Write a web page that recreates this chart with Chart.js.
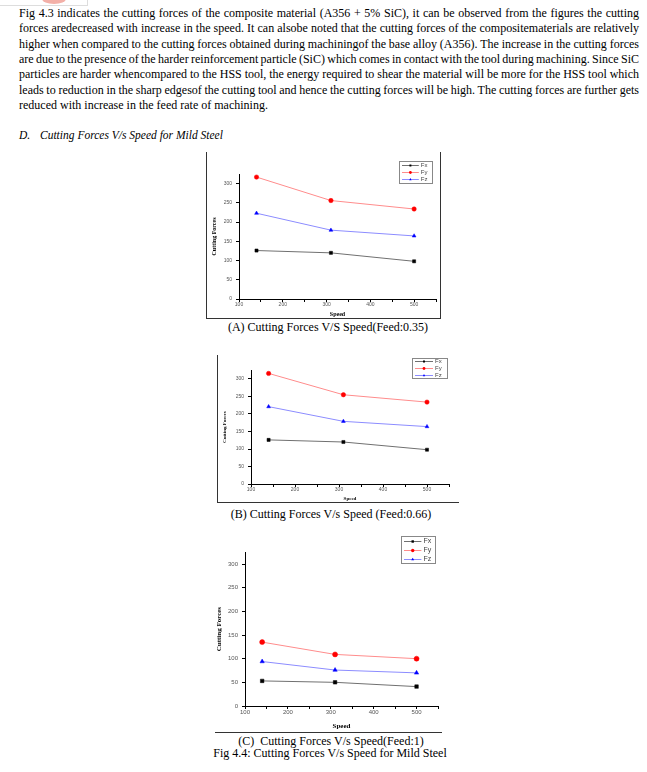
<!DOCTYPE html>
<html>
<head>
<meta charset="utf-8">
<script src="https://cdn.jsdelivr.net/npm/chart.js@4.4.1/dist/chart.umd.min.js"></script>
<style>
  body { margin: 0; background: #fff; }
  #page { position: relative; width: 647px; height: 772px; overflow: hidden; background: #fff; }
  .ln { position: absolute; left: 19px; white-space: nowrap; font-family: "Liberation Serif", serif; font-size: 12px; line-height: 15px; color: #000; }
  .cap { position: absolute; white-space: nowrap; font-family: "Liberation Serif", serif; font-size: 12px; line-height: 14px; color: #000; transform: translateX(-50%); }
  canvas { position: absolute; }
  .frame { position: absolute; border-color: #333; border-style: solid; border-width: 0; }
</style>
</head>
<body>
<div id="page">
  <!-- bout de logo coupé en haut -->
  <div style="position:absolute;left:0;top:0;width:87px;height:5px;border-right:1px solid #ddd;border-bottom:1px solid #ddd;"></div>
  <div style="position:absolute;left:42px;top:-6px;width:24px;height:10px;border-radius:50%;background:#f3b0a8;"></div>

  <div id="para"></div>
  <div class="ln" style="top:128px;font-style:italic;font-size:11.5px;">D.</div>
  <div class="ln" style="top:128px;left:40px;font-style:italic;font-size:11.5px;">Cutting Forces V/s Speed for Mild Steel</div>

  <div class="frame" style="left:206px;top:152px;width:233px;height:166px;border-width:0 1px 1px 1px;"></div>
  <canvas id="chartA" width="245" height="170" style="left:200px;top:150px;"></canvas>
  <div class="cap" style="left:328px;top:320px;">(A) Cutting Forces V/S Speed(Feed:0.35)</div>

  <div class="frame" style="left:217px;top:355px;width:241px;height:147px;border-width:0 0 1px 1px;"></div>
  <canvas id="chartB" width="241" height="148" style="left:217px;top:355px;"></canvas>
  <div class="cap" style="left:331px;top:507px;">(B) Cutting Forces V/s Speed (Feed:0.66)</div>

  <canvas id="chartC" width="240" height="202" style="left:205px;top:530px;"></canvas>
  <div class="frame" style="left:215px;top:732px;width:227px;height:0;border-width:1px 0 0 0;"></div>
  <div class="cap" style="left:331px;top:734px;">(C) &nbsp;Cutting Forces V/s Speed(Feed:1)</div>
  <div class="cap" style="left:330px;top:746px;">Fig 4.4: Cutting Forces V/s Speed for Mild Steel</div>
</div>

<script>
// texte du paragraphe, une entrée par ligne (justifiée sauf la dernière)
var textLines = [
  "Fig 4.3 indicates the cutting forces of the composite material (A356 + 5% SiC), it can be observed from the figures the cutting",
  "forces aredecreased with increase in the speed. It can alsobe noted that the cutting forces of the compositematerials are relatively",
  "higher when compared to the cutting forces obtained during machiningof the base alloy (A356). The increase in the cutting forces",
  "are due to the presence of the harder reinforcement particle (SiC) which comes in contact with the tool during machining. Since SiC",
  "particles are harder whencompared to the HSS tool, the energy required to shear the material will be more for the HSS tool which",
  "leads to reduction in the sharp edgesof the cutting tool and hence the cutting forces will be high. The cutting forces are further gets",
  "reduced with increase in the feed rate of machining."
];

var speeds = [140, 310, 500];
var seriesNames = ["Fx", "Fy", "Fz"];

var fxA = [126, 120, 98];
var fyA = [317, 256, 234];
var fzA = [223, 179, 164];

var fxB = [126, 120, 98];
var fyB = [316, 255, 234];
var fzB = [221, 179, 164];

var fxC = [53, 50, 41];
var fyC = [135, 109, 100];
var fzC = [94, 76, 70];

var xMin = 100, xMax = 550, xStep = 50, xLabelEvery = 100;
var yMin = 0, yMax = 325, yStep = 50;

// paragraphe: on place chaque ligne et on étire les espaces pour justifier
var para = document.getElementById("para");
var lineWidth = 620;
textLines.forEach(function(t, i) {
  var d = document.createElement("div");
  d.className = "ln";
  d.style.top = (6 + i * 15.33) + "px";
  d.textContent = t;
  para.appendChild(d);
  if (i < textLines.length - 1) {
    var w = d.getBoundingClientRect().width;
    var spaces = t.split(" ").length - 1;
    d.style.wordSpacing = ((lineWidth - w) / spaces) + "px";
  }
});

// légende encadrée façon Origin
const boxLegend = {
  id: 'boxLegend',
  afterDraw(chart, args, opts) {
    const ctx = chart.ctx;
    ctx.save();
    ctx.fillStyle = '#fff';
    ctx.fillRect(opts.x, opts.y, opts.w, opts.h);
    ctx.strokeStyle = '#888';
    ctx.lineWidth = 1;
    ctx.strokeRect(opts.x + 0.5, opts.y + 0.5, opts.w, opts.h);
    const rowH = opts.h / chart.data.datasets.length;
    chart.data.datasets.forEach((ds, i) => {
      const cy = Math.round(opts.y + rowH * (i + 0.5)) + 0.5;
      const x1 = opts.x + 3, x2 = opts.x + opts.w * 0.6;
      ctx.strokeStyle = ds.borderColor;
      ctx.beginPath(); ctx.moveTo(x1, cy); ctx.lineTo(x2, cy); ctx.stroke();
      ctx.fillStyle = ds.pointBackgroundColor;
      ctx.strokeStyle = ds.pointBorderColor;
      Chart.helpers.drawPoint(ctx, {pointStyle: ds.pointStyle, radius: opts.r, rotation: 0, borderWidth: 0}, (x1 + x2) / 2, cy);
      ctx.fillStyle = '#444';
      ctx.font = opts.font + 'px "Liberation Sans", Arial';
      ctx.textBaseline = 'middle';
      ctx.fillText(ds.label, x2 + 2, cy);
    });
    ctx.restore();
  }
};

function pts(vals) {
  return speeds.map(function(s, i) { return {x: s, y: vals[i]}; });
}

function makeChart(id, fx, fy, fz, g) {
  var styles = [
    {line: '#707070', pt: '#000', style: 'rect'},
    {line: '#ff8c8c', pt: '#ff0000', style: 'circle'},
    {line: '#8c8cff', pt: '#0000ff', style: 'triangle'}
  ];
  var datasets = [fx, fy, fz].map(function(vals, i) {
    return {
      label: seriesNames[i],
      data: pts(vals),
      borderColor: styles[i].line,
      borderWidth: 1,
      pointStyle: styles[i].style,
      pointRadius: g.r,
      pointBackgroundColor: styles[i].pt,
      pointBorderColor: styles[i].pt,
      pointBorderWidth: 0.5,
      tension: 0
    };
  });
  var tickFont = {family: '"Liberation Sans", Arial', size: g.tick};
  var titleFont = {family: '"Liberation Serif", serif', size: g.title, weight: 'bold'};
  return new Chart(document.getElementById(id), {
    type: 'line',
    data: {datasets: datasets},
    plugins: [boxLegend],
    options: {
      responsive: false,
      animation: false,
      devicePixelRatio: 1,
      layout: {padding: {left: 0, top: g.padTop, right: g.padRight, bottom: 0}},
      plugins: {
        legend: {display: false},
        tooltip: {enabled: false},
        boxLegend: g.legend
      },
      scales: {
        x: {
          type: 'linear',
          min: xMin, max: xMax,
          grid: {drawOnChartArea: false, drawTicks: true, tickLength: 3, tickColor: '#000'},
          border: {color: '#000', width: 1},
          ticks: {
            stepSize: xStep, autoSkip: false, maxRotation: 0, padding: 0,
            color: '#555', font: tickFont,
            callback: function(v) { return v % xLabelEvery === 0 ? v : ''; }
          },
          title: {display: true, text: 'Speed', color: '#000', font: titleFont, padding: {top: 0, bottom: g.xTitlePad}},
          afterFit: function(s) { s.height = g.xHeight; }
        },
        y: {
          min: yMin, max: yMax,
          grid: {drawOnChartArea: false, drawTicks: true, tickLength: 3, tickColor: '#000'},
          border: {color: '#000', width: 1},
          ticks: {stepSize: yStep, includeBounds: false, padding: 4, color: '#555', font: tickFont},
          title: {display: true, text: 'Cutting Forces', color: '#000', font: titleFont, padding: {top: g.yTitlePad, bottom: 0}},
          afterFit: function(s) { s.width = g.yWidth; }
        }
      }
    }
  });
}

makeChart('chartA', fxA, fyA, fzA, {
  r: 2.2, tick: 5, title: 6,
  padTop: 24, padRight: 9, xHeight: 21, yWidth: 39,
  xTitlePad: 2.4, yTitlePad: 10.4,
  legend: {x: 199, y: 11, w: 33, h: 22, r: 1.4, font: 6}
});

makeChart('chartB', fxB, fyB, fzB, {
  r: 2.2, tick: 5, title: 5,
  padTop: 15.25, padRight: 9, xHeight: 19, yWidth: 34,
  xTitlePad: 1, yTitlePad: 5,
  legend: {x: 195, y: 3, w: 35, h: 20, r: 1.4, font: 6}
});

makeChart('chartC', fxC, fyC, fzC, {
  r: 2.5, tick: 6, title: 7,
  padTop: 22.2, padRight: 7, xHeight: 26, yWidth: 40,
  xTitlePad: 1.8, yTitlePad: 9.8,
  legend: {x: 196, y: 6, w: 34, h: 27, r: 1.7, font: 7}
});
</script>
</body>
</html>
